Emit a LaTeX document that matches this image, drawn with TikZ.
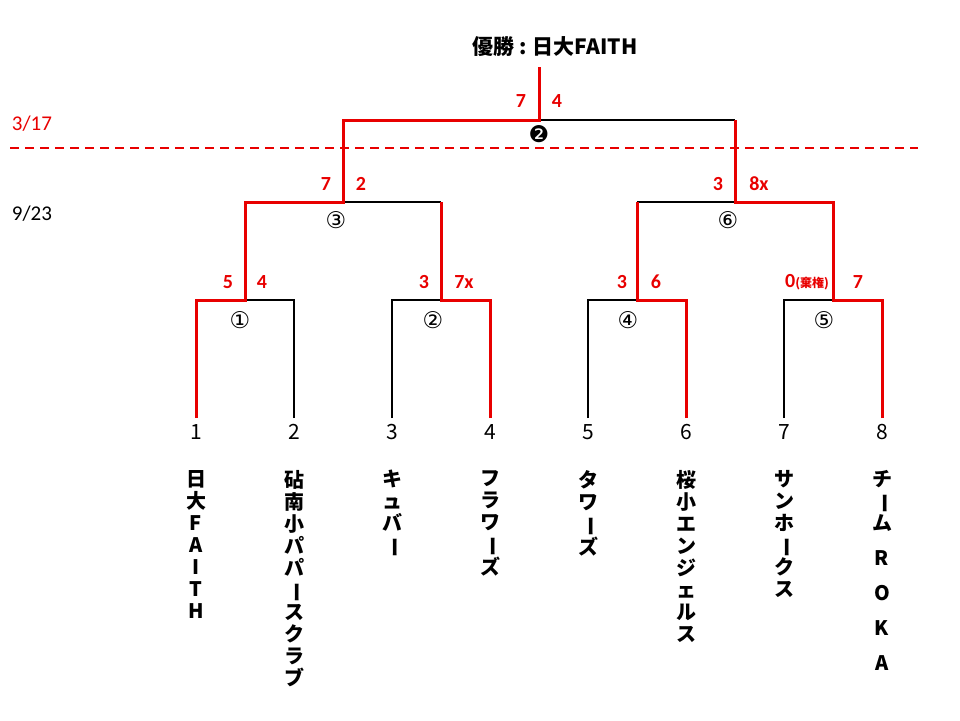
\documentclass[tikz,border=0pt]{standalone}
\usepackage{fontspec}
\usepackage{graphicx}
\setmainfont{Carlito}
\newfontfamily\jp{Noto Sans CJK JP}
\newfontfamily\djv{DejaVu Sans}
\definecolor{rd}{RGB}{232,0,0}
\tikzset{
  rl/.style={draw=rd,line width=3pt},
  bl/.style={draw=black,line width=2.2pt},
  sc/.style={text=rd,font=\bfseries\fontsize{20}{20}\selectfont,inner sep=0pt},
  cn/.style={font=\djv\fontsize{23}{23}\selectfont,inner sep=0pt},
  ln/.style={font=\jp\fontsize{21}{21}\selectfont,inner sep=0pt},
  nm/.style={font=\jp\bfseries\fontsize{20}{22}\selectfont,inner sep=0pt,anchor=north,align=center},
}
\newcommand{\vb}{\rotatebox[origin=c]{-90}{ー}}
\begin{document}
\begin{tikzpicture}[x=1pt,y=-1pt]
\useasboundingbox (0,0) rectangle (960,720);
% coordinates
\foreach \i/\x in {1/196,2/294,3/392,4/490,5/588,6/686,7/784,8/882}{
  \coordinate (b\i) at (\x,418); \coordinate (t\i) at (\x,300);}
\coordinate (m1) at (245,300); \coordinate (m2) at (441,300);
\coordinate (m4) at (637,300); \coordinate (m5) at (833,300);
\coordinate (u1) at (245,202); \coordinate (u2) at (441,202);
\coordinate (u4) at (637,202); \coordinate (u5) at (833,202);
\coordinate (m3) at (343,202); \coordinate (m6) at (735,202);
\coordinate (v3) at (343,120); \coordinate (v6) at (735,120);
\coordinate (f) at (539,120); \coordinate (top) at (539,67);
% black lines
\draw[bl] (b2)--(t2)--(m1);
\draw[bl] (b3)--(t3)--(m2);
\draw[bl] (b5)--(t5)--(m4);
\draw[bl] (b7)--(t7)--(m5);
\draw[bl] (m3)--(u2);
\draw[bl] (u4)--(m6);
\draw[bl] (f)--(v6);
% red lines
\draw[rl] (b1)--(t1)--(m1)--(u1)--(m3)--(v3)--(f)--(top);
\draw[rl] (b4)--(t4)--(m2)--(u2);
\draw[rl] (b6)--(t6)--(m4)--(u4);
\draw[rl] (b8)--(t8)--(m5)--(u5)--(m6)--(v6);
% dashed
\coordinate (dl) at (10,148); \coordinate (dr) at (918,148);
\draw[rd,line width=2.2pt,dash pattern=on 9pt off 6pt] (dl)--(dr);
\node[text=rd,font=\fontsize{21}{21}\selectfont] (d1) at (32,124) {3/17};
\node[font=\fontsize{21}{21}\selectfont] (d2) at (32,214) {9/23};
% title
\node[font=\jp\bfseries\fontsize{21}{21}\selectfont] (ttl) at (555,47) {優勝 : 日大FAITH};
% scores
\node[sc] (s1) at (521,101) {7}; \node[sc] (s2) at (557,101) {4};
\node[sc] (s3) at (326,184) {7}; \node[sc] (s4) at (361,184) {2};
\node[sc] (s5) at (718,184) {3}; \node[sc] (s6) at (759,184) {8x};
\node[sc] (s7) at (228,282) {5}; \node[sc] (s8) at (262,282) {4};
\node[sc] (s9) at (424,282) {3}; \node[sc] (s10) at (464,282) {7x};
\node[sc] (s11) at (622,282) {3}; \node[sc] (s12) at (656,282) {6};
\node[sc] (s13) at (807,282) {0{\jp\fontsize{12}{12}\selectfont (棄権)}}; \node[sc] (s14) at (858,282) {7};
% circled
\node[cn] (c1) at (240,320) {①}; \node[cn] (c2) at (433,320) {②};
\node[cn] (c4) at (628,320) {④}; \node[cn] (c5) at (824,320) {⑤};
\node[cn] (c3) at (336,220) {③}; \node[cn] (c6) at (728,220) {⑥};
\node[cn] (c0) at (539,134) {❷};
% leaf numbers
\foreach \i/\x in {1/196,2/294,3/392,4/490,5/588,6/686,7/784,8/882}
  \node[ln] (n\i) at (\x,432) {\i};
% names
\node[nm] (p1) at (196,470) {日\\大\\F\\A\\I\\T\\H};
\node[nm] (p2) at (294,470) {砧\\南\\小\\パ\\パ\\\vb\\ス\\ク\\ラ\\ブ};
\node[nm] (p3) at (392,470) {キ\\ュ\\バ\\\vb};
\node[nm] (p4) at (490,470) {フ\\ラ\\ワ\\\vb\\ズ};
\node[nm] (p5) at (588,470) {タ\\ワ\\\vb\\ズ};
\node[nm] (p6) at (686,470) {桜\\小\\エ\\ン\\ジ\\ェ\\ル\\ス};
\node[nm] (p7) at (784,470) {サ\\ン\\ホ\\\vb\\ク\\ス};
\node[nm,font=\jp\bfseries\fontsize{20}{35}\selectfont] (p8) at (882,470) {チ\\[-13pt]\vb\\[-13pt]ム\\R\\O\\K\\A};
\end{tikzpicture}
\end{document}
